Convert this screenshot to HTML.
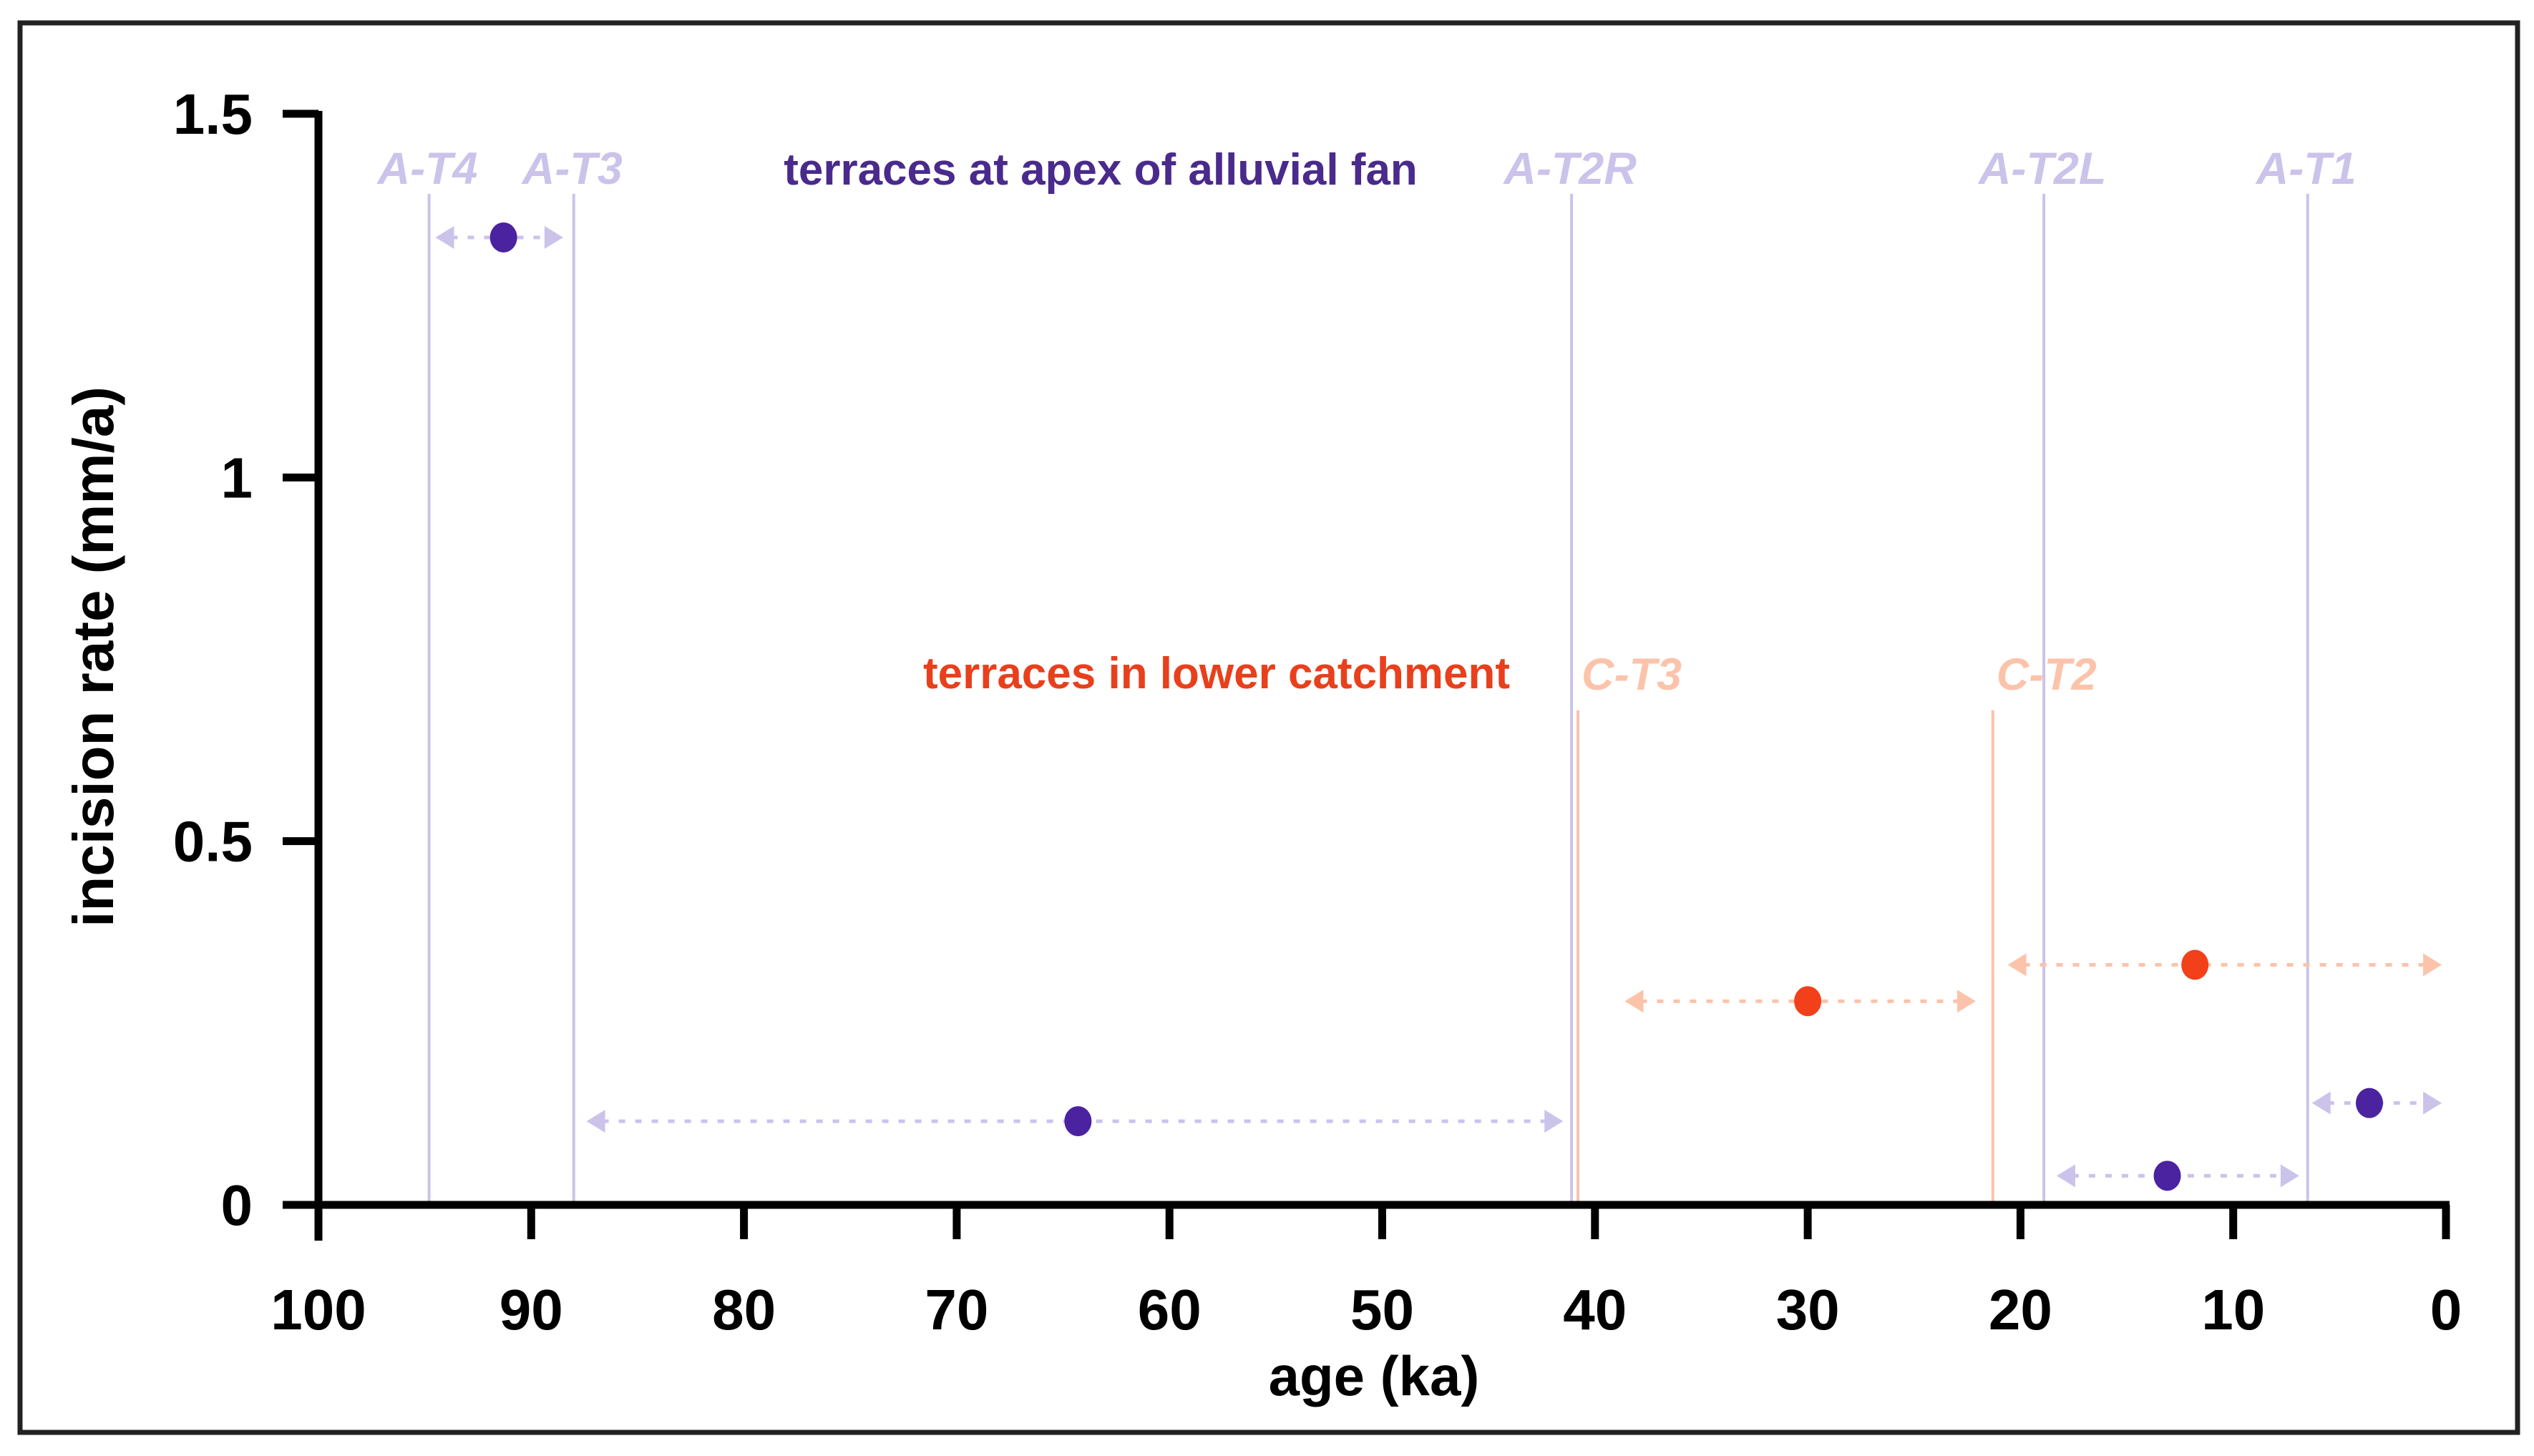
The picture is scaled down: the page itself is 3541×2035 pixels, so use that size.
<!DOCTYPE html>
<html><head><meta charset="utf-8"><style>
html,body{margin:0;padding:0;background:#fff;}
svg{display:block;}
text{font-family:"Liberation Sans",sans-serif;font-weight:bold;}
</style></head><body>
<svg id="chart" width="3541" height="2035" viewBox="0 0 3541 2035" xmlns="http://www.w3.org/2000/svg">
<rect x="28" y="32" width="3490" height="1970" fill="#fff" stroke="#222" stroke-width="7"/>
<g id="layer"></g>
</svg>
<script>
const xTicks=[100,90,80,70,60,50,40,30,20,10,0];
const yTicks=[0,0.5,1,1.5];
const yTickLabels=["0","0.5","1","1.5"];
const terraceNames=["A-T4","A-T3","A-T2R","A-T2L","A-T1"];
const terraceAges=[94.8,88,41.1,18.9,6.5];
const cTerraceNames=["C-T3","C-T2"];
const cTerraceAges=[40.8,21.3];
const cTerraceTop=0.68;
const apexAge=[91.3,64.3,13.1,3.6];
const apexRate=[1.33,0.115,0.04,0.14];
const apexMin=[94.5,87.4,18.3,6.3];
const apexMax=[88.5,41.5,6.9,0.2];
const lowAge=[30,11.8];
const lowRate=[0.28,0.33];
const lowMin=[38.6,20.6];
const lowMax=[22.1,0.2];

const X0=445,X1=3418,Y0=1684,Y1=159;
const sx=v=>X0+(100-v)/100*(X1-X0);
const sy=v=>Y0-v/1.5*(Y0-Y1);
const NS="http://www.w3.org/2000/svg";
const layer=document.getElementById('layer');
function mk(tag,attrs,txt){const e=document.createElementNS(NS,tag);for(const k in attrs)e.setAttribute(k,attrs[k]);if(txt!==undefined)e.textContent=txt;layer.appendChild(e);return e;}
const LAV="#cbc3ea",PUR="#4b22a0",PEACH="#fcc3ab",RED="#f2401a";

terraceAges.forEach((a,i)=>{
  const l=mk('line',{x1:sx(a),x2:sx(a),y1:sy(1.39),y2:Y0,stroke:LAV,'stroke-width':4});
  
  
  const t=mk('text',{x:sx(a)-2,y:sy(1.33)-75,'text-anchor':'middle','font-size':63,'font-style':'italic',fill:LAV},terraceNames[i]);
  
  
});
cTerraceAges.forEach((a,i)=>{
  const l=mk('line',{x1:sx(a),x2:sx(a),y1:sy(cTerraceTop),y2:Y0,stroke:PEACH,'stroke-width':4});
  
  
  const t=mk('text',{x:sx(a)+75,y:sy(0.72)+12,'text-anchor':'middle','font-size':63,'font-style':'italic',fill:PEACH},cTerraceNames[i]);
  
  
});

function arrowRange(a,b,y,col,name){
  const xa=sx(a),xb=sx(b);
  const g=mk('line',{x1:xa+22,x2:xb-22,y1:y,y2:y,stroke:col,'stroke-width':5,'stroke-dasharray':'9 14'});
  
  
  const p1=mk('polygon',{points:`${xa},${y} ${xa+26},${y-16} ${xa+26},${y+16}`,fill:col});
  
  
  const p2=mk('polygon',{points:`${xb},${y} ${xb-26},${y-16} ${xb-26},${y+16}`,fill:col});
  
  
}
apexAge.forEach((a,i)=>{
  arrowRange(apexMin[i],apexMax[i],sy(apexRate[i]),LAV,'apex-'+i);
  const c=mk('ellipse',{cx:sx(a),cy:sy(apexRate[i]),rx:19,ry:21,fill:PUR});
  
  
});
lowAge.forEach((a,i)=>{
  arrowRange(lowMin[i],lowMax[i],sy(lowRate[i]),PEACH,'catchment-'+i);
  const c=mk('ellipse',{cx:sx(a),cy:sy(lowRate[i]),rx:19,ry:21,fill:RED});
  
  
});

let t=mk('text',{x:1538,y:258,'text-anchor':'middle','font-size':62,fill:"#4a2a8c"},'terraces at apex of alluvial fan');


t=mk('text',{x:1700,y:962,'text-anchor':'middle','font-size':62,fill:"#e8401c"},'terraces in lower catchment');



let ax=mk('line',{x1:X0,x2:X0,y1:Y1-4,y2:Y0+50,stroke:'#000','stroke-width':11});


ax=mk('line',{x1:X0-50,x2:X1+5,y1:Y0,y2:Y0,stroke:'#000','stroke-width':11});


yTicks.forEach((v,i)=>{
  const l=mk('line',{x1:X0-50,x2:X0,y1:sy(v),y2:sy(v),stroke:'#000','stroke-width':11});
  
  
  const tx=mk('text',{x:X0-92,y:sy(v)+28,'text-anchor':'end','font-size':80,fill:'#000'},yTickLabels[i]);
  
  
});
xTicks.forEach(v=>{
  const l=mk('line',{x1:sx(v),x2:sx(v),y1:Y0,y2:Y0+48,stroke:'#000','stroke-width':11});
  
  
  const tx=mk('text',{x:sx(v),y:1858,'text-anchor':'middle','font-size':80,fill:'#000'},String(v));
  
  
});
t=mk('text',{x:1920,y:1950,'text-anchor':'middle','font-size':78,fill:'#000'},'age (ka)');


t=mk('text',{x:0,y:0,'text-anchor':'middle','font-size':80,fill:'#000',transform:'translate(158,918) rotate(-90)'},'incision rate (mm/a)');


</script>
</body></html>
